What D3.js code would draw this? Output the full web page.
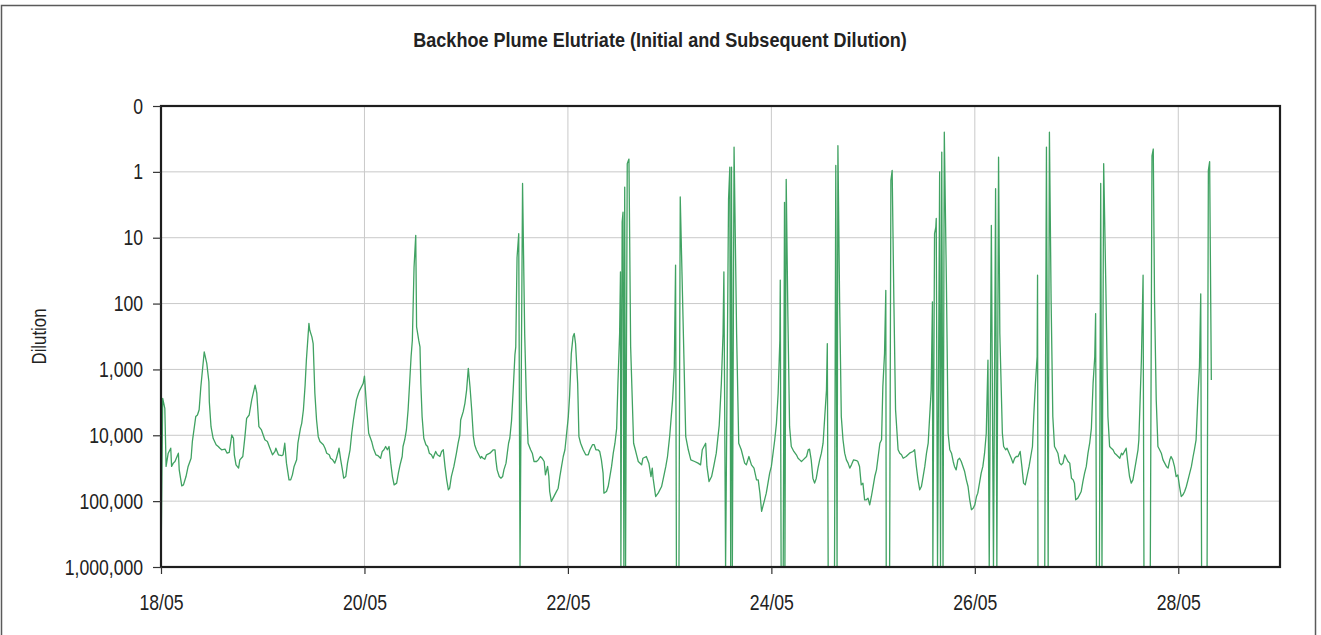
<!DOCTYPE html>
<html>
<head>
<meta charset="utf-8">
<script src="https://cdn.jsdelivr.net/npm/d3@7"></script>
<style>
  body { margin: 0; background: #fff; }
  text { font-family: "Liberation Sans", Arial, sans-serif; fill: #222; }
</style>
</head>
<body>
<svg id="chart" width="1321" height="635"></svg>
<script>
// run starts 18/05 00:00, points are [hours since start, dilution]
const startDay = Date.UTC(2008, 4, 18);
const endDay = Date.UTC(2008, 4, 29);
const xTickDays = [0, 2, 4, 6, 8, 10];
const yTicks = [0.1, 1, 10, 100, 1000, 10000, 100000, 1000000];

const may18 = [[0,1e6],[0.4,2750],[0.9,3900],[1.2,29700],[1.7,18700],[2.3,15700],[2.5,29700],[2.9,26500],[3.3,25000],[4.1,18700],[4.3,33500],[4.9,58500],[5.3,56600],[5.9,42300],[6.4,29700],[7.1,22300],[7.4,12400],[8.2,5200],[8.6,4920],[9.0,4100],[9.4,1830],[10.2,540],[10.8,810],[11.3,1540],[11.4,3100],[11.8,7400],[12.3,11100],[13.0,13900],[13.5,14800],[13.9,15700],[14.3,16600],[15.1,16200],[15.6,18700],[16.1,18200],[16.7,9900],[17.1,11100],[17.3,19800],[17.7,28100],[18.3,31500],[18.6,23600],[19.3,21000],[19.8,10500],[20.2,5530],[20.8,4920],[21.4,2900],[22.2,1730],[22.6,2300],[23.1,7400],[23.7,8300]];
const may19 = [[24.5,11700],[25.1,12400],[25.7,15700],[26.3,19800],[26.9,17600],[27.1,15700],[27.7,19800],[28.5,20400],[28.8,19800],[29.2,13200],[29.6,26500],[30.2,47500],[30.6,47500],[31.0,39900],[31.4,29700],[32.0,23600],[32.3,13200],[32.9,7840],[33.2,6580],[33.6,4100],[34.0,1730],[34.3,720],[34.9,200],[35.1,254],[35.6,320],[35.9,405],[36.3,2300],[36.7,5860],[37.1,10500],[37.5,12400],[38.3,13900],[38.7,15700],[39.1,18700],[39.7,19800],[40.0,22300],[40.5,23600],[41.0,26500],[41.4,22300],[42.0,15700],[42.4,23600],[42.8,33500],[43.1,44800],[43.6,42300],[44.0,26500],[44.6,16600],[45.0,9300],[45.4,5860],[45.7,4380],[46.1,2900],[46.6,2300],[46.9,2060],[47.3,1830],[47.7,1630]];
const may20 = [[48.0,1260],[48.5,3680],[49.0,9300],[49.7,12400],[50.1,15700],[50.7,19800],[51.2,20400],[51.8,22300],[52.2,17600],[52.6,16600],[53.0,14800],[53.4,16600],[53.8,14800],[54.2,26500],[54.6,42300],[55.0,56600],[55.6,53300],[56.0,37600],[56.4,28100],[56.9,21000],[57.1,14800],[57.5,11700],[57.9,8300],[58.3,4100],[58.7,1450],[59.0,643],[59.3,360],[59.7,28],[60.1,9.2],[60.3,226],[60.8,360],[61.1,454],[61.3,1630],[61.6,5200],[62.0,11100],[62.5,13900],[62.9,14800],[63.3,18700],[63.8,19800],[64.2,22300],[64.5,19800],[64.8,17600],[65.2,19800],[65.8,21000],[66.2,17600],[66.6,16600],[67.0,29700],[67.4,47500],[67.8,67300],[68.1,63600],[68.5,42300],[69.1,29700],[69.7,18700],[70.1,13200],[70.5,9900],[70.7,5860],[71.3,4380],[71.7,3270]];
const may21 = [[72.1,2060],[72.5,965],[72.9,1830],[73.3,4100],[73.7,10500],[74.0,13900],[74.4,16600],[74.8,18700],[75.4,22300],[75.6,21000],[76.0,22300],[76.4,23100],[76.8,19800],[77.6,18700],[78.4,16600],[78.8,16600],[79.0,23600],[79.3,33500],[79.8,42300],[80.2,44800],[80.6,42300],[80.9,33500],[81.4,26500],[81.7,18700],[82.0,13200],[82.3,11000],[82.7,6000],[83.1,2000],[83.5,600],[83.7,454],[84.0,20],[84.4,8.7],[84.7,1e6],[85.3,1.5],[85.8,285],[86.2,2900],[86.6,13200],[87.2,16600],[87.6,18700],[88.0,25000],[88.6,25000],[89.0,23600],[89.5,21000],[89.9,22300],[90.4,25000],[90.7,39900],[91.2,29700],[91.5,42300],[91.7,71400],[92.1,101000],[92.5,90000],[93.1,75600],[93.7,63600],[94.1,42300],[94.5,29700],[94.9,21000],[95.3,16600],[95.7,9300]];
const may22 = [[96.1,5200],[96.4,2500],[96.8,575],[97.2,320],[97.5,285],[97.8,405],[98.3,1630],[98.6,10500],[99.0,13200],[99.6,16600],[100.2,19800],[100.8,19800],[101.2,16600],[101.8,13900],[102.2,13900],[102.6,16600],[103.1,16600],[103.5,17600],[103.9,23600],[104.3,37600],[104.5,75600],[105.1,71400],[105.5,60000],[105.9,42300],[106.3,29700],[106.7,18700],[107.1,13200],[107.5,7840],[107.8,1630],[108.2,285],[108.4,33],[108.5,1e6],[108.8,5.8],[109.0,4.1],[109.2,1e6],[109.4,1.7],[109.6,1e6],[110.0,0.75],[110.4,0.64],[110.8,454],[111.5,13200],[111.9,16600],[112.2,19800],[112.6,25000],[113.4,28100],[113.7,22300],[114.5,21000],[115.1,26500],[115.6,42300],[115.9,31500],[116.1,44800],[116.7,85000],[117.3,75600],[118.1,60000],[118.6,42300],[119.1,29700],[119.5,21000]];
const may23 = [[120.0,10500],[120.7,2900],[121.1,912],[121.4,26],[121.6,1e6],[122.2,1e6],[122.5,2.4],[123.8,10500],[124.4,16600],[125.0,23600],[125.9,25000],[126.7,26500],[127.3,28100],[127.7,16600],[128.5,13200],[128.8,29700],[129.3,50400],[129.9,42300],[130.4,29700],[131.0,18700],[131.7,7000],[132.2,1630],[132.6,285],[132.8,33],[133.2,1e6],[133.9,2.6],[134.2,0.85],[134.4,1e6],[134.6,0.85],[134.8,1e6],[135.2,0.42],[135.8,285],[136.3,13200],[136.9,16600],[137.7,26500],[138.1,28100],[138.7,21000],[139.3,28100],[139.9,31500],[140.5,47500],[140.9,47500],[141.3,75600],[141.7,143000],[142.0,120000],[142.4,95500],[142.8,75600],[143.2,53300],[143.6,37600]];
const may24 = [[144.0,29700],[144.4,18700],[144.8,11700],[145.2,6580],[145.6,2300],[146.0,360],[146.1,44],[146.3,1e6],[146.8,1e6],[147.1,2.9],[147.2,1e6],[147.5,1.3],[147.9,159],[148.3,7400],[148.7,14800],[149.3,17600],[149.9,19800],[150.3,22300],[150.7,23600],[151.1,25000],[151.5,23600],[152.3,21000],[152.7,16600],[153.0,16200],[153.4,23600],[153.8,44800],[154.2,53300],[154.6,44800],[155.0,31500],[155.4,23600],[155.8,18700],[156.2,13200],[156.6,5200],[157.0,2060],[157.2,405],[157.4,1e6],[158.9,1e6],[159.2,0.8],[159.5,1e6],[159.7,0.4],[160.1,89],[160.5,5200],[160.9,11700],[161.3,18700],[161.7,23600],[162.1,26500],[162.5,31500],[162.9,28100],[163.4,23600],[164.1,24200],[164.4,25000],[164.8,29700],[165.2,56600],[165.6,53300],[166.0,95500],[166.4,95500],[166.8,90000],[167.2,114000],[167.6,85000]];
const may25 = [[168.0,60000],[168.4,42300],[168.8,33500],[169.2,21000],[169.6,13200],[170.0,11700],[170.3,1830],[170.7,575],[171.0,63],[171.1,1e6],[171.9,1e6],[172.2,1.35],[172.5,0.95],[172.9,89],[173.3,4100],[173.9,16600],[174.3,18700],[174.7,19800],[175.1,22300],[175.8,21000],[176.6,18700],[177.4,17600],[177.8,16600],[178.2,29700],[178.6,47500],[179.0,67300],[179.4,60000],[179.8,42300],[180.2,29700],[180.6,18700],[181.0,13200],[181.3,5860],[181.7,2060],[182.0,94],[182.1,1e6],[182.5,8.7],[182.8,6.9],[182.9,5.1],[183.2,1e6],[183.7,1.0],[183.9,1e6],[184.2,0.5],[184.5,1e6],[184.8,0.25],[185.3,50],[185.7,9300],[186.1,16600],[186.5,18700],[186.9,25000],[187.2,29700],[187.6,33500],[188.0,23600],[188.4,22300],[188.8,25000],[189.2,29700],[189.6,35500],[190.0,47500],[190.4,60000],[190.8,95500],[191.2,135000],[191.6,128000]];
const may26 = [[192.0,114000],[192.4,85000],[192.7,75600],[193.1,53300],[193.5,37600],[193.9,29700],[194.3,18700],[194.7,9300],[195.1,720],[195.4,1e6],[195.9,6.5],[196.4,1e6],[196.9,1.8],[197.2,1e6],[197.6,0.6],[197.9,285],[198.5,9300],[198.8,14800],[199.3,16600],[199.6,15700],[200.1,18700],[200.6,22300],[201.0,26500],[201.4,22300],[201.8,21000],[202.2,21000],[202.7,17600],[203.1,29700],[203.5,53300],[203.9,56600],[204.3,42300],[204.8,29700],[205.2,21000],[205.6,14800],[205.9,5200],[206.3,1630],[206.7,640],[206.8,37],[206.9,1e6],[208.5,1e6],[208.9,0.42],[209.3,1e6],[209.6,0.25],[210.0,89],[210.4,5200],[210.8,14800],[211.2,16600],[211.6,18700],[212.0,26500],[212.4,28100],[212.8,26500],[213.2,19800],[213.6,22300],[214.0,25000],[214.4,26500],[214.8,44800],[215.2,47500],[215.5,53300],[215.8,95500]];
const may27 = [[216.3,90000],[216.7,80200],[217.1,71400],[217.5,50400],[217.9,37600],[218.3,29700],[218.7,18700],[219.1,13200],[219.5,7840],[219.9,1630],[220.3,643],[220.5,142],[220.7,1e6],[221.4,1e6],[221.7,1.5],[222.0,1e6],[222.4,0.75],[222.9,50],[223.4,5200],[223.8,14800],[224.2,15700],[224.6,16600],[225.0,18700],[225.4,19800],[225.8,21000],[226.2,22300],[226.6,18700],[226.9,19800],[227.3,17600],[227.7,15700],[228.1,26500],[228.5,42300],[228.9,53300],[229.3,47500],[229.7,33500],[230.1,23600],[230.5,16600],[230.7,11700],[231.0,2900],[231.3,720],[231.7,37],[231.9,1e6],[233.4,1e6],[233.8,0.57],[234.1,0.45],[234.4,89],[234.8,2900],[235.2,14800],[235.6,16600],[236.0,18700],[236.4,23600],[236.8,26500],[237.2,29700],[237.6,31500],[238.0,23600],[238.3,21000],[238.7,23600],[239.1,29700],[239.5,42300],[239.9,39900]];
const may28 = [[240.3,60000],[240.7,85000],[241.1,80200],[241.5,71400],[241.9,60000],[242.3,47500],[242.7,37600],[243.1,29700],[243.5,21000],[243.8,16600],[244.2,11700],[244.6,2900],[245.0,912],[245.3,71],[245.5,1e6],[246.8,1e6],[247.1,0.95],[247.4,0.7],[247.8,1450]];

const series = [].concat(may18, may19, may20, may21, may22, may23, may24, may25, may26, may27, may28);

const width = 1321, height = 635;
const margin = { top: 106, right: 41, bottom: 68, left: 161 };
const narrow = 0.8; // the original text is a condensed face

const svg = d3.select("#chart");

// outer chart border
svg.append("rect")
    .attr("x", 1.5).attr("y", 5.5)
    .attr("width", 1314).attr("height", 640)
    .attr("fill", "#fff")
    .attr("stroke", "#5a5a5a")
    .attr("stroke-width", 1.5);

const x = d3.scaleUtc()
    .domain([new Date(startDay), new Date(endDay)])
    .range([margin.left, width - margin.right]);

const y = d3.scaleLog()
    .domain([0.1, 1e6])
    .range([margin.top, height - margin.bottom]);

const xTicks = xTickDays.map(d => new Date(startDay + d * 864e5));

// grid
svg.append("g")
    .selectAll("line.h")
    .data(yTicks.slice(1, -1))
    .join("line")
    .attr("x1", margin.left).attr("x2", width - margin.right)
    .attr("y1", d => y(d)).attr("y2", d => y(d))
    .attr("stroke", "#c9c9c9").attr("stroke-width", 1);

svg.append("g")
    .selectAll("line.v")
    .data(xTicks.slice(1))
    .join("line")
    .attr("x1", d => x(d)).attr("x2", d => x(d))
    .attr("y1", margin.top).attr("y2", height - margin.bottom)
    .attr("stroke", "#c9c9c9").attr("stroke-width", 1);

// the series
const line = d3.line()
    .x(d => x(new Date(startDay + d[0] * 36e5)))
    .y(d => y(d[1]));

svg.append("path")
    .datum(series)
    .attr("fill", "none")
    .attr("stroke", "#40a262")
    .attr("stroke-width", 1.3)
    .attr("stroke-linejoin", "round")
    .attr("d", line);

// frame
svg.append("rect")
    .attr("x", margin.left).attr("y", margin.top)
    .attr("width", width - margin.left - margin.right)
    .attr("height", height - margin.top - margin.bottom)
    .attr("fill", "none")
    .attr("stroke", "#1e1e1e")
    .attr("stroke-width", 2.2);

// axes
const yAxis = svg.append("g")
    .attr("transform", `translate(${margin.left},0)`)
    .call(d3.axisLeft(y).tickValues(yTicks).tickFormat(d3.format(",.0f")).tickSize(8).tickPadding(10));
yAxis.select(".domain").remove();
yAxis.selectAll(".tick line").attr("stroke", "#333").attr("stroke-width", 1.2);
yAxis.selectAll(".tick text")
    .attr("x", -18 / narrow)
    .attr("transform", `scale(${narrow},1)`)
    .style("font-size", "22px")
    .style("font-family", '"Liberation Sans", Arial, sans-serif')
    .attr("fill", "#222");

const xAxis = svg.append("g")
    .attr("transform", `translate(0,${height - margin.bottom})`)
    .call(d3.axisBottom(x).tickValues(xTicks).tickFormat(d3.utcFormat("%d/%m")).tickSize(7));
xAxis.select(".domain").remove();
xAxis.selectAll(".tick line").attr("stroke", "#333").attr("stroke-width", 1.2);
xAxis.selectAll(".tick text")
    .attr("y", 43).attr("dy", 0)
    .attr("transform", `scale(${narrow},1)`)
    .style("font-size", "22px")
    .style("font-family", '"Liberation Sans", Arial, sans-serif')
    .attr("fill", "#222");

// titles
svg.append("text")
    .attr("transform", `translate(660,47) scale(0.86,1)`)
    .attr("text-anchor", "middle")
    .style("font-size", "21px")
    .style("font-weight", "bold")
    .text("Backhoe Plume Elutriate (Initial and Subsequent Dilution)");

svg.append("text")
    .attr("transform", `translate(46,${(margin.top + height - margin.bottom) / 2}) rotate(-90) scale(${narrow},1)`)
    .attr("text-anchor", "middle")
    .style("font-size", "21px")
    .text("Dilution");
</script>
</body>
</html>
